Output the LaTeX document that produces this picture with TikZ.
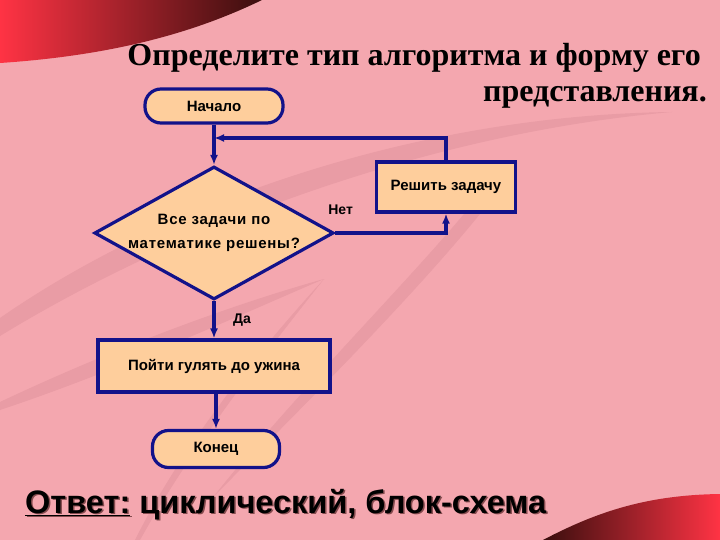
\documentclass[tikz,border=0pt]{standalone}
\usepackage{fontspec}
\setmainfont{Liberation Serif}
\setsansfont{Liberation Sans}
\usetikzlibrary{shapes.geometric,arrows.meta}

\definecolor{slidepink}{HTML}{F4A7AF}
\definecolor{logopink}{HTML}{E99CA5}
\definecolor{boxfill}{HTML}{FECE9C}
\definecolor{flownavy}{HTML}{12128A}
\definecolor{swooshred}{HTML}{FF3344}
\definecolor{swooshdark}{HTML}{3A0E0E}

\begin{document}
\begin{tikzpicture}[x=1pt, y=-1pt,
    >={Latex[length=10pt,width=8pt]},
    block/.style={draw=flownavy, line width=3.2pt, fill=boxfill, inner sep=0pt,
        font=\sffamily\bfseries\fontsize{15}{24}\selectfont},
    terminal/.style={block, rounded corners=16pt},
    flow/.style={draw=flownavy, line width=3.5pt},
    answer/.style={font=\sffamily\bfseries\fontsize{32.5}{36}\selectfont, anchor=west, inner sep=0pt}]
    \useasboundingbox (0,0) rectangle (720,540);

    % Slide background
    \fill[slidepink] (0,0) rectangle (720,540);
    \fill[logopink] (0,318) .. controls (170,200) and (420,115) .. (672,112)
        .. controls (440,132) and (190,220) .. (0,336) -- cycle;
    \fill[logopink] (0,402) .. controls (110,350) and (230,305) .. (324,279)
        .. controls (240,315) and (120,370) .. (0,410) -- cycle;
    \fill[logopink] (324,279) .. controls (260,360) and (190,450) .. (140,540)
        -- (135,540) .. controls (180,450) and (250,360) .. (324,279) -- cycle;
    \fill[logopink] (488,204) .. controls (420,290) and (300,410) .. (214,496)
        .. controls (290,400) and (400,290) .. (464,214) -- cycle;

    % Red swooshes
    \shade[left color=swooshred, right color=swooshdark] (0,0) -- (262,0)
        .. controls (200,30) and (120,55) .. (0,63) -- cycle;
    \shade[left color=swooshdark, right color=swooshred] (543,540)
        .. controls (600,510) and (650,495) .. (720,494) -- (720,540) -- cycle;

    % Title
    \node[anchor=east, inner sep=0pt, font=\bfseries\fontsize{32}{36}\selectfont] (title1)
        at (701,58) {Определите тип алгоритма и форму его};
    \node[anchor=east, inner sep=0pt, font=\bfseries\fontsize{32}{36}\selectfont] (title2)
        at (707,97) {представления.};

    % Flowchart blocks
    \node[terminal, minimum width=138pt, minimum height=34pt] (start) at (214,106) {Начало};
    \node[block, diamond, aspect=1.8, minimum width=236pt, minimum height=130pt, align=center]
        (check) at (214,233) {\addfontfeatures{LetterSpace=5}Все задачи по\\
        \addfontfeatures{LetterSpace=5}математике решены?};
    \node[block, minimum width=139pt, minimum height=50pt] (solve) at (446,187) {Решить задачу};
    \node[block, minimum width=232pt, minimum height=52pt] (walk) at (214,366) {Пойти гулять до ужина};
    \node[terminal, minimum width=127pt, minimum height=37pt] (stop) at (216,449) {Конец};
    \coordinate (join) at (214,138);

    % Connectors
    \draw[flow, ->] (start) -- (check);
    \draw[flow, ->] (solve.north) |- (join);
    \draw[flow, ->] (check.east) -| (solve.south)
        node[pos=0, anchor=south west, xshift=-12pt, yshift=13pt,
             font=\sffamily\bfseries\fontsize{14}{16}\selectfont] (no) {Нет};
    \draw[flow, ->] (check.south) -- (walk.north)
        node[midway, right=14pt, font=\sffamily\bfseries\fontsize{14}{16}\selectfont] (yes) {Да};
    \draw[flow, ->] (walk.south -| stop.north) -- (stop.north);

    % Answer with shadow
    \node[answer] (answer) at (25,505)
        {\rlap{\color{swooshdark!60!slidepink}\hspace{1.5pt}\raisebox{-1.5pt}{\underline{Ответ:} циклический, блок-схема}}\underline{Ответ:} циклический, блок-схема};
\end{tikzpicture}
\end{document}
